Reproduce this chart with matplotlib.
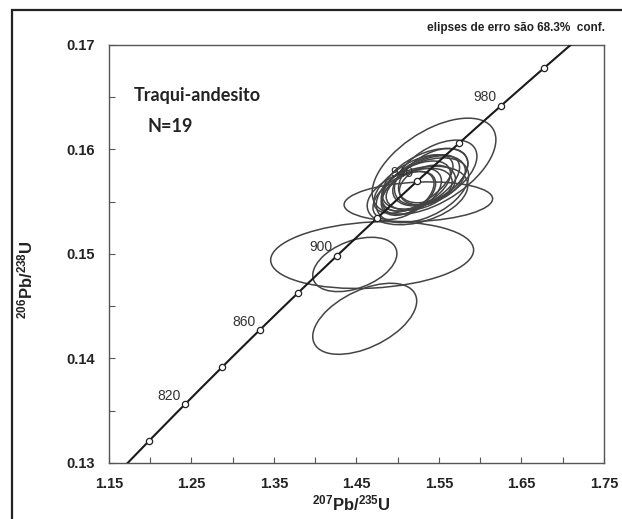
import matplotlib
matplotlib.use("Agg")
import matplotlib.pyplot as plt
from matplotlib.patches import Ellipse, Rectangle
import numpy as np

plt.rcParams['font.family'] = ['Liberation Sans', 'DejaVu Sans']
plt.rcParams['mathtext.default'] = 'regular'

# decay constants (1/yr) used for the concordia curve
lambda_238 = 1.55125e-10
lambda_235 = 9.8485e-10

marker_ages = [800, 820, 840, 860, 880, 900, 920, 940, 960, 980, 1000]
label_ages = [820, 860, 900, 940, 980]

# spot analyses: 207Pb/235U, 206Pb/238U, 1 sigma errors, error correlation
pb207_u235 = [1.469, 1.448, 1.460, 1.544, 1.525, 1.524, 1.522, 1.528, 1.517, 1.533,
              1.512, 1.538, 1.526, 1.519, 1.543, 1.508, 1.530, 1.536, 1.546]
pb206_u238 = [0.1499, 0.1490, 0.1438, 0.1584, 0.1550, 0.1556, 0.1565, 0.1568, 0.1560, 0.1572,
              0.1558, 0.1570, 0.1562, 0.1567, 0.1575, 0.1556, 0.1561, 0.1566, 0.1578]
sig_x = [0.123, 0.051, 0.063, 0.075, 0.090, 0.061, 0.042, 0.047, 0.036, 0.052,
         0.032, 0.044, 0.040, 0.048, 0.042, 0.038, 0.056, 0.034, 0.050]
sig_y = [0.0032, 0.0026, 0.0034, 0.0046, 0.0019, 0.0028, 0.0024, 0.0027, 0.0022, 0.0029,
         0.0021, 0.0024, 0.0020, 0.0028, 0.0026, 0.0023, 0.0031, 0.0019, 0.0031]
rho = [0.15, 0.40, 0.50, 0.55, 0.15, 0.35, 0.50, 0.55, 0.45, 0.50,
       0.45, 0.40, 0.35, 0.60, 0.45, 0.50, 0.45, 0.30, 0.50]

fig = plt.figure(figsize=(6.22, 5.19), dpi=100)
fig.patch.set_facecolor('white')
ax = fig.add_axes([0.1752, 0.1079, 0.7958, 0.8054])

# outer frame
fig.patches.append(Rectangle((0.0193, -0.05), 1.2, 0.9807 + 0.05, transform=fig.transFigure,
                             fill=False, edgecolor='#222222', linewidth=1.6))

# error ellipses
for cx, cy, sx, sy, r in zip(pb207_u235, pb206_u238, sig_x, sig_y, rho):
    cov = np.array([[sx * sx, r * sx * sy], [r * sx * sy, sy * sy]])
    vals, vecs = np.linalg.eigh(cov)
    angle = np.degrees(np.arctan2(vecs[1, 1], vecs[0, 1]))
    ell = Ellipse((cx, cy), 2 * np.sqrt(vals[1]), 2 * np.sqrt(vals[0]), angle=angle,
                  fill=False, edgecolor='#444444', linewidth=1.1, zorder=2)
    ax.add_patch(ell)

# concordia
t = np.linspace(700e6, 1100e6, 400)
ax.plot(np.exp(lambda_235 * t) - 1, np.exp(lambda_238 * t) - 1, color='#1a1a1a', lw=1.5, zorder=3)
ta = np.array(marker_ages) * 1e6
ax.plot(np.exp(lambda_235 * ta) - 1, np.exp(lambda_238 * ta) - 1, 'o', ms=4.5,
        mfc='white', mec='#222222', mew=0.9, zorder=4)
for age in label_ages:
    xa = np.exp(lambda_235 * age * 1e6) - 1
    ya = np.exp(lambda_238 * age * 1e6) - 1
    ax.annotate(str(age), (xa, ya), xytext=(-3, 1), textcoords='offset points',
                ha='right', va='bottom', fontsize=10, color='#333333')

ax.set_xlim(1.15, 1.75)
ax.set_ylim(0.13, 0.17)
ax.set_xticks(np.arange(1.15, 1.76, 0.1))
ax.set_xticks(np.arange(1.15, 1.76, 0.05), minor=True)
ax.set_yticks(np.arange(0.13, 0.171, 0.01))
ax.set_yticks(np.arange(0.13, 0.171, 0.005), minor=True)
ax.set_xticklabels(['%.2f' % v for v in np.arange(1.15, 1.76, 0.1)])
ax.set_yticklabels(['%.2f' % v for v in np.arange(0.13, 0.171, 0.01)])
ax.tick_params(which='both', direction='in', length=4, width=0.8, color='#555555',
               labelsize=10.5, labelcolor='#222222', pad=10)
for lab in ax.get_xticklabels() + ax.get_yticklabels():
    lab.set_fontweight('bold')
for sp in ax.spines.values():
    sp.set_color('#555555')
    sp.set_linewidth(1.0)

ax.set_xlabel(r'$^{207}$Pb/$^{235}$U', fontsize=12, fontweight='bold', color='#222222')
ax.set_ylabel(r'$^{206}$Pb/$^{238}$U', fontsize=12, fontweight='bold', color='#222222')
ax.xaxis.set_label_coords(0.49, -0.072)
ax.yaxis.set_label_coords(-0.148, 0.44)

ax.text(0.05, 0.88, 'Traqui-andesito', transform=ax.transAxes, fontsize=13,
        fontweight='bold', family=['Lato', 'DejaVu Sans'], color='#222222', va='center')
ax.text(0.077, 0.805, 'N=19', transform=ax.transAxes, fontsize=13,
        fontweight='bold', family=['Lato', 'DejaVu Sans'], color='#222222', va='center')
fig.text(0.972, 0.946, 'elipses de erro são 68.3%  conf.', ha='right', va='center',
         fontsize=8.5, fontweight='bold', color='#222222')

fig.savefig('out.png', dpi=100, facecolor='white')
